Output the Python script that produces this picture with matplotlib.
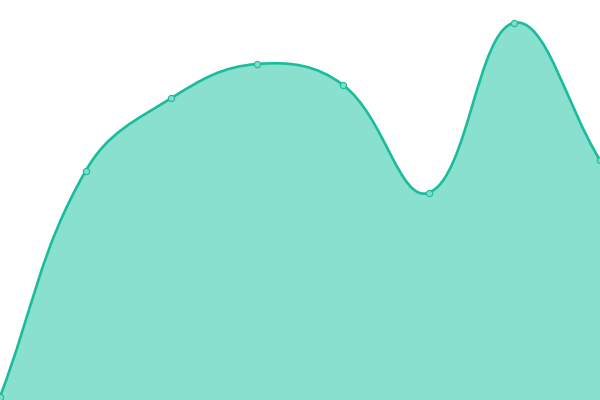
import numpy as np
import matplotlib
matplotlib.use("Agg")
import matplotlib.pyplot as plt
from matplotlib.path import Path
from matplotlib.patches import PathPatch

# values (y axis 0..100, x = point index)
labels = ["A", "B", "C", "D", "E", "F", "G", "H"]
values = [0.8, 57.3, 75.5, 84.0, 78.8, 51.8, 94.3, 60.0]

LINE = "#1abc9c"
FILL = "#89e0cf"
TENSION = 0.4


def spline_controls(px, py, t):
    # chart.js style cardinal spline control points, computed in pixel space
    n = len(px)
    ctrl = []
    for i in range(n):
        ip, inx = max(i - 1, 0), min(i + 1, n - 1)
        d01 = np.hypot(px[i] - px[ip], py[i] - py[ip])
        d12 = np.hypot(px[inx] - px[i], py[inx] - py[i])
        s01 = d01 / (d01 + d12) if d01 + d12 else 0
        s12 = d12 / (d01 + d12) if d01 + d12 else 0
        fa, fb = t * s01, t * s12
        dx, dy = px[inx] - px[ip], py[inx] - py[ip]
        ctrl.append(((px[i] - fa * dx, py[i] - fa * dy),
                     (px[i] + fb * dx, py[i] + fb * dy)))
    return ctrl


fig = plt.figure(figsize=(6, 4), dpi=100)
ax = fig.add_axes([0, 0, 1, 1])
n = len(values)
ax.set_xlim(0, n - 1)
ax.set_ylim(0, 100)
ax.axis("off")

# pixel scales so the spline matches screen geometry
sx, sy = 600 / (n - 1), 400 / 100
px = [i * sx for i in range(n)]
py = [v * sy for v in values]
ctrl = spline_controls(px, py, TENSION)

verts = [(px[0] / sx, py[0] / sy)]
codes = [Path.MOVETO]
for i in range(n - 1):
    c1 = ctrl[i][1]
    c2 = ctrl[i + 1][0]
    verts += [(c1[0] / sx, c1[1] / sy), (c2[0] / sx, c2[1] / sy), (px[i + 1] / sx, py[i + 1] / sy)]
    codes += [Path.CURVE4] * 3
line_path = Path(verts, codes)

fill_verts = verts + [(n - 1, 0), (0, 0), (0, values[0])]
fill_codes = codes + [Path.LINETO, Path.LINETO, Path.CLOSEPOLY]
ax.add_patch(PathPatch(Path(fill_verts, fill_codes), facecolor=FILL, edgecolor="none"))
ax.add_patch(PathPatch(line_path, facecolor="none", edgecolor=LINE, lw=1.9))

ax.plot(range(n), values, linestyle="none", marker="o", markersize=4.5,
        markerfacecolor="#7fdcc8", markeredgecolor=LINE, markeredgewidth=0.8, clip_on=False)

fig.savefig("out.png", dpi=100)
